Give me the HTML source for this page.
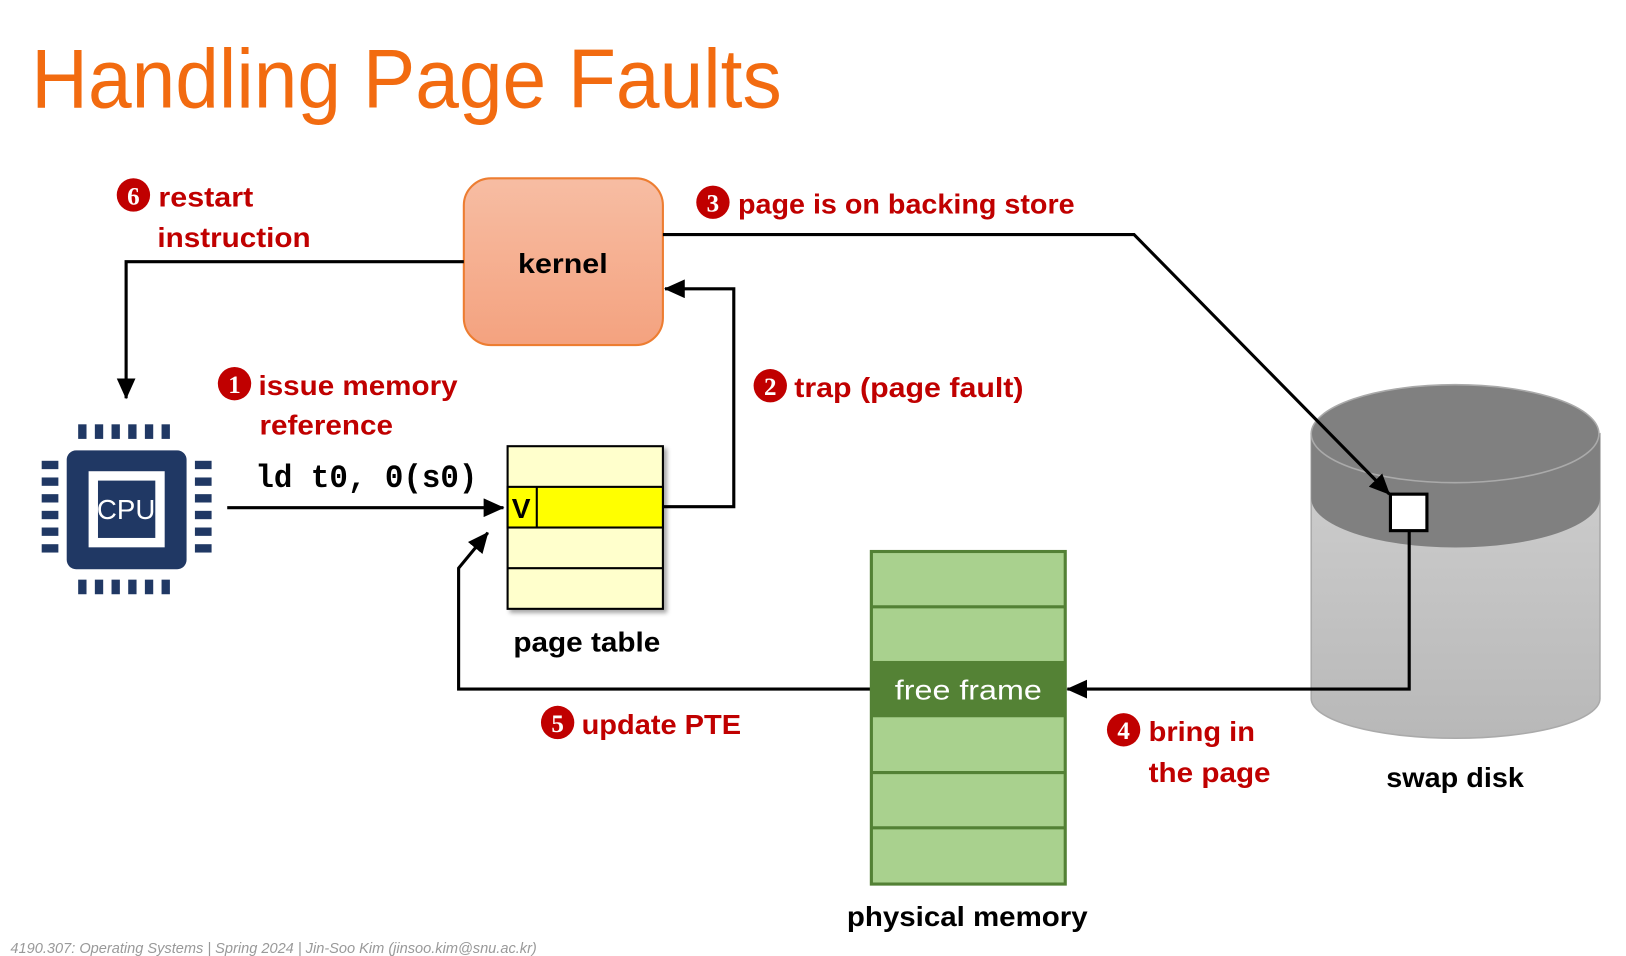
<!DOCTYPE html>
<html><head><meta charset="utf-8"><style>
html,body{margin:0;padding:0;background:#fff;}
svg{display:block;}
text{font-family:"Liberation Sans",sans-serif;}
.r{fill:#C00000;font-weight:bold;font-size:27px;}
.b{fill:#000;font-weight:bold;font-size:27px;}
.n{fill:#fff;font-family:"Liberation Serif",serif;font-size:24px;font-weight:bold;}
</style></head><body>
<svg width="1626" height="956" viewBox="0 0 1560 917" preserveAspectRatio="none" xmlns="http://www.w3.org/2000/svg">
<defs>
<linearGradient id="kg" x1="0" y1="0" x2="0" y2="1"><stop offset="0" stop-color="#F7BDA3"/><stop offset="1" stop-color="#F4A27F"/></linearGradient>
<linearGradient id="cg" x1="0" y1="0" x2="0" y2="1"><stop offset="0" stop-color="#D0D0D0"/><stop offset="1" stop-color="#B8B8B8"/></linearGradient>
<marker id="A" markerWidth="20" markerHeight="18" refX="19" refY="9" orient="auto" markerUnits="userSpaceOnUse"><path d="M0,0 L20,9 L0,18 z" fill="#000"/></marker>
<filter id="sh"><feDropShadow dx="3" dy="3" stdDeviation="2" flood-opacity="0.35"/></filter>
</defs>

<text x="30" y="103" font-size="80" fill="#F26B10" textLength="720" lengthAdjust="spacingAndGlyphs">Handling Page Faults</text>

<!-- kernel -->
<rect x="445" y="171" width="191" height="160" rx="26" fill="url(#kg)" stroke="#ED7D31" stroke-width="2"/>
<text x="540" y="262" class="b" text-anchor="middle" textLength="86" lengthAdjust="spacingAndGlyphs">kernel</text>

<!-- swap disk -->
<path d="M1258,416 V670 A138,38 0 0 0 1535,670 V416 Z" fill="url(#cg)" stroke="#aaa" stroke-width="1.5"/>
<path d="M1258,416 V478 A138,47 0 0 0 1535,478 V416 Z" fill="#808080"/>
<ellipse cx="1396" cy="416" rx="138" ry="47" fill="#808080" stroke="#aaa" stroke-width="1.5"/>
<rect x="1334" y="474" width="35" height="35" fill="#fff" stroke="#000" stroke-width="3"/>
<text x="1396" y="755" class="b" text-anchor="middle" textLength="132" lengthAdjust="spacingAndGlyphs">swap disk</text>

<!-- connectors -->
<g stroke="#000" stroke-width="3" fill="none">
<path d="M445,251 H121 V382" marker-end="url(#A)"/>
<path d="M636,225 H1088 L1333,474" marker-end="url(#A)"/>
<path d="M636,486 H704 V277 H638" marker-end="url(#A)"/>
<path d="M218,487 H483" marker-end="url(#A)"/>
<path d="M1352,509 V661 H1024" marker-end="url(#A)"/>
<path d="M836,661 H440 V545 L468,511" marker-end="url(#A)"/>
</g>

<!-- page table -->
<g filter="url(#sh)">
<rect x="487" y="428" width="149" height="156" fill="#FFFFCC" stroke="#000" stroke-width="2"/>
</g>
<rect x="487" y="467" width="149" height="39" fill="#FFFF00" stroke="#000" stroke-width="2"/>
<line x1="515" y1="467" x2="515" y2="506" stroke="#000" stroke-width="2"/>
<line x1="487" y1="545" x2="636" y2="545" stroke="#000" stroke-width="2"/>
<text x="491" y="497" class="b" font-size="24">V</text>
<text x="563" y="625" class="b" text-anchor="middle" textLength="141" lengthAdjust="spacingAndGlyphs">page table</text>
<text x="245" y="467" font-size="31" font-weight="bold" textLength="213" lengthAdjust="spacingAndGlyphs" style="font-family:'Liberation Mono',monospace">ld t0, 0(s0)</text>

<!-- CPU -->
<g fill="#203864">
<rect x="64" y="432" width="115" height="114" rx="9"/>
<g id="pt"><rect x="75" y="407" width="8" height="14"/><rect x="91" y="407" width="8" height="14"/><rect x="107" y="407" width="8" height="14"/><rect x="123" y="407" width="8" height="14"/><rect x="139" y="407" width="8" height="14"/><rect x="155" y="407" width="8" height="14"/></g>
<use href="#pt" y="149"/>
<g id="pl"><rect x="40" y="442" width="16" height="8"/><rect x="40" y="458" width="16" height="8"/><rect x="40" y="474" width="16" height="8"/><rect x="40" y="490" width="16" height="8"/><rect x="40" y="506" width="16" height="8"/><rect x="40" y="522" width="16" height="8"/></g>
<use href="#pl" x="147"/>
</g>
<rect x="85" y="452" width="73" height="73" fill="#fff"/>
<rect x="94" y="461" width="55" height="55" fill="#203864"/>
<text x="121" y="498" fill="#fff" font-size="27" text-anchor="middle" textLength="56" lengthAdjust="spacingAndGlyphs">CPU</text>

<!-- physical memory -->
<rect x="836" y="529" width="186" height="319" fill="#A9D18E" stroke="#538135" stroke-width="3"/>
<rect x="836" y="634" width="186" height="54" fill="#548235"/>
<g stroke="#538135" stroke-width="3"><line x1="836" y1="582" x2="1022" y2="582"/><line x1="836" y1="741" x2="1022" y2="741"/><line x1="836" y1="794" x2="1022" y2="794"/></g>
<text x="929" y="671" fill="#fff" font-size="27" text-anchor="middle" textLength="141" lengthAdjust="spacingAndGlyphs">free frame</text>
<text x="928" y="888" class="b" text-anchor="middle" textLength="231" lengthAdjust="spacingAndGlyphs">physical memory</text>

<!-- labels -->
<circle cx="128" cy="187" r="16" fill="#C00000"/><text x="128" y="196" class="n" text-anchor="middle">6</text>
<text x="152" y="198" class="r" textLength="91" lengthAdjust="spacingAndGlyphs">restart</text>
<text x="151" y="237" class="r" textLength="147" lengthAdjust="spacingAndGlyphs">instruction</text>

<circle cx="684" cy="194" r="16" fill="#C00000"/><text x="684" y="203" class="n" text-anchor="middle">3</text>
<text x="708" y="205" class="r" textLength="323" lengthAdjust="spacingAndGlyphs">page is on backing store</text>

<circle cx="225" cy="368" r="16" fill="#C00000"/><text x="225" y="377" class="n" text-anchor="middle">1</text>
<text x="248" y="379" class="r" textLength="191" lengthAdjust="spacingAndGlyphs">issue memory</text>
<text x="249" y="417" class="r" textLength="128" lengthAdjust="spacingAndGlyphs">reference</text>

<circle cx="739" cy="370" r="16" fill="#C00000"/><text x="739" y="379" class="n" text-anchor="middle">2</text>
<text x="762" y="381" class="r" textLength="220" lengthAdjust="spacingAndGlyphs">trap (page fault)</text>

<circle cx="535" cy="693" r="16" fill="#C00000"/><text x="535" y="702" class="n" text-anchor="middle">5</text>
<text x="558" y="704" class="r" textLength="153" lengthAdjust="spacingAndGlyphs">update PTE</text>

<circle cx="1078" cy="700" r="16" fill="#C00000"/><text x="1078" y="709" class="n" text-anchor="middle">4</text>
<text x="1102" y="711" class="r" textLength="102" lengthAdjust="spacingAndGlyphs">bring in</text>
<text x="1102" y="750" class="r" textLength="117" lengthAdjust="spacingAndGlyphs">the page</text>

<text x="10" y="914" font-size="14" font-style="italic" fill="#999" textLength="505" lengthAdjust="spacingAndGlyphs">4190.307: Operating Systems | Spring 2024 | Jin-Soo Kim (jinsoo.kim@snu.ac.kr)</text>
</svg>
</body></html>
